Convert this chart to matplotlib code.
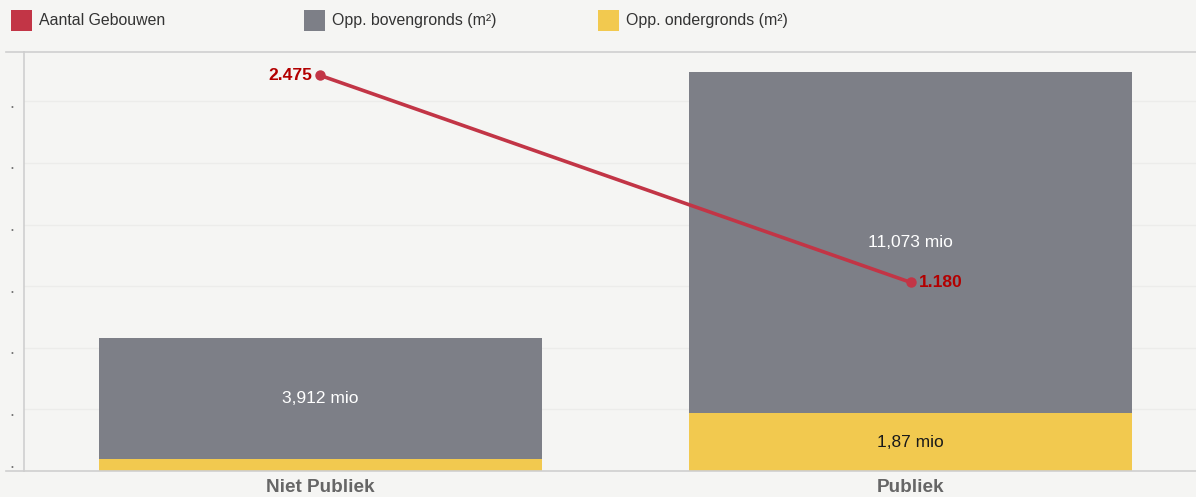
import numpy as np
import matplotlib
matplotlib.use('Agg')
from matplotlib import pyplot as plt
from matplotlib.patches import Rectangle
from matplotlib.lines import Line2D
from matplotlib.transforms import ScaledTranslation

# data
categories = ['Niet Publiek', 'Publiek']
bovengronds = [3.912, 11.073]      # mio m2
ondergronds = [0.39, 1.87]         # mio m2
boven_labels = ['3,912 mio', '11,073 mio']
onder_labels = ['', '1,87 mio']
gebouwen = [2475, 1180]
gebouwen_labels = ['2.475', '1.180']
legend_names = ['Aantal Gebouwen', 'Opp. bovengronds (m²)', 'Opp. ondergronds (m²)']

red = '#c23546'
grey = '#7d7f87'
yellow = '#f2c94f'
bg = '#f5f5f3'
axcol = '#cfcfcf'

plt.rcParams['font.family'] = ['Liberation Sans', 'DejaVu Sans']

W, H = 1196, 497
fig = plt.figure(figsize=(W/100, H/100), dpi=100)
fig.patch.set_facecolor(bg)

ax = fig.add_axes([24/W, 26/H, 1172/W, 419/H])
ax.set_facecolor(bg)
x = np.arange(len(categories))
ax.bar(x, ondergronds, width=0.75, color=yellow, zorder=2)
ax.bar(x, bovengronds, width=0.75, bottom=ondergronds, color=grey, zorder=2)
ax.set_xlim(-0.502, 1.483)
ax.set_ylim(0, 13.6)
ax.set_yticks(np.arange(0, 13, 2))
ax.set_yticklabels(['.'] * 7, color='#777777', fontsize=13)
ax.tick_params(axis='y', length=0, pad=7)
ax.tick_params(axis='x', length=0, pad=6)
ax.set_xticks(x)
ax.set_xticklabels(categories, fontsize=13.6, fontweight='bold', color='#666666')
ax.grid(axis='y', color='#ececea', linewidth=1, zorder=0)
for s in ['top', 'bottom', 'left']:
    ax.spines[s].set_color(axcol)
    ax.spines[s].set_linewidth(1.2)
ax.spines['right'].set_visible(False)
# lowest dot sits above its line
lbl0 = ax.get_yticklabels()[0]
lbl0.set_transform(lbl0.get_transform() + ScaledTranslation(0, 10/100, fig.dpi_scale_trans))

for i in range(len(categories)):
    ax.text(x[i], ondergronds[i] + bovengronds[i] / 2, boven_labels[i],
            ha='center', va='center', color='white', fontsize=12.5, zorder=3)
    if onder_labels[i]:
        ax.text(x[i], ondergronds[i] / 2, onder_labels[i],
                ha='center', va='center', color='#1a1a1a', fontsize=12.5, zorder=3)

ax2 = ax.twinx()
ax2.set_ylim(0, 2622)
ax2.set_yticks([])
for s in ax2.spines.values():
    s.set_visible(False)
ax2.plot(x, gebouwen, color=red, linewidth=2.6, marker='o', markersize=6.5,
         solid_capstyle='round', zorder=4)
ax2.annotate(gebouwen_labels[0], (x[0], gebouwen[0]), xytext=(-6, 0),
             textcoords='offset points', ha='right', va='center',
             color='#b30000', fontsize=12.6, fontweight='bold')
ax2.annotate(gebouwen_labels[1], (x[1], gebouwen[1]), xytext=(6, 0),
             textcoords='offset points', ha='left', va='center',
             color='#b30000', fontsize=12.6, fontweight='bold')

# short extensions of the top/bottom lines to the left
for yy in [52, 471]:
    fig.add_artist(Line2D([6/W, 24/W], [1 - yy/H, 1 - yy/H], color=axcol, linewidth=1.2))

# legend
leg_x = [11, 304, 598]
for name, col, lx in zip(legend_names, [red, grey, yellow], leg_x):
    fig.add_artist(Rectangle((lx/W, 1 - 31/H), 21/W, 21/H, facecolor=col, edgecolor='none'))
    fig.text((lx + 28)/W, 1 - 20.5/H, name, ha='left', va='center', fontsize=11.4, color='#333333')

fig.savefig('out.png', dpi=100, facecolor=bg)
